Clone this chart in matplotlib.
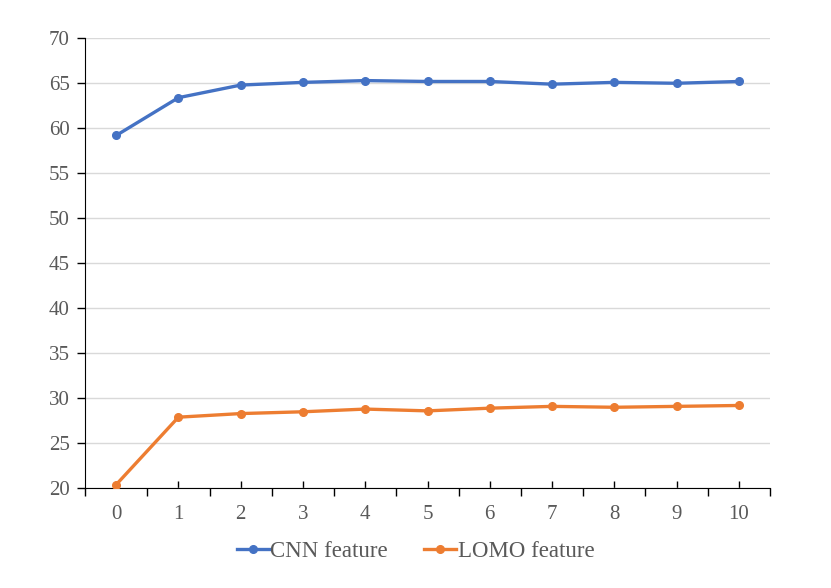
import numpy as np
import matplotlib.pyplot as plt

plt.rcParams['font.family'] = ['Liberation Serif', 'DejaVu Serif']

# data
x_labels = ['0', '1', '2', '3', '4', '5', '6', '7', '8', '9', '10']
cnn = [59.2, 63.4, 64.8, 65.1, 65.3, 65.2, 65.2, 64.9, 65.1, 65.0, 65.2]
lomo = [20.4, 27.9, 28.3, 28.5, 28.8, 28.6, 28.9, 29.1, 29.0, 29.1, 29.2]

blue = '#4472C4'
orange = '#ED7D31'
txt = '#595959'

fig = plt.figure(figsize=(8.31, 5.88), dpi=100)
ax = fig.add_axes([0.1023, 0.1696, 0.8243, 0.7653])

x = np.arange(len(x_labels))
ax.plot(x, cnn, color=blue, lw=2.4, marker='o', ms=5.5, label='CNN feature', zorder=3)
ax.plot(x, lomo, color=orange, lw=2.4, marker='o', ms=5.5, label='LOMO feature', zorder=3)

ax.set_xlim(-0.5, len(x_labels) - 0.5)
ax.set_ylim(20, 70)
ax.set_yticks(np.arange(20, 71, 5))
ax.yaxis.grid(True, color='#D9D9D9', lw=1)
ax.set_axisbelow(True)

# category axis: ticks between categories, small inner ticks at centres
ax.set_xticks(np.arange(-0.5, len(x_labels), 1))
ax.set_xticklabels([])
ax.set_xticks(x, minor=True)
ax.set_xticklabels(x_labels, minor=True)
ax.tick_params(axis='both', which='both', labelsize=15, labelcolor=txt)
ax.tick_params(axis='x', which='major', length=6, width=1, color='black', direction='out')
ax.tick_params(axis='x', which='minor', length=5, width=1, color='black', direction='in', pad=12)
ax.tick_params(axis='y', length=6, width=1, color='black', direction='out', pad=5)

for s in ['top', 'right']:
    ax.spines[s].set_visible(False)
ax.spines['left'].set_color('black')
ax.spines['bottom'].set_color('black')

leg = fig.legend(loc='center', bbox_to_anchor=(0.5, 0.062), ncol=2, frameon=False,
                 fontsize=16.5, handlelength=1.4, columnspacing=1.6, handletextpad=0.05,
                 labelcolor=txt)

fig.savefig('out.png', dpi=100)
